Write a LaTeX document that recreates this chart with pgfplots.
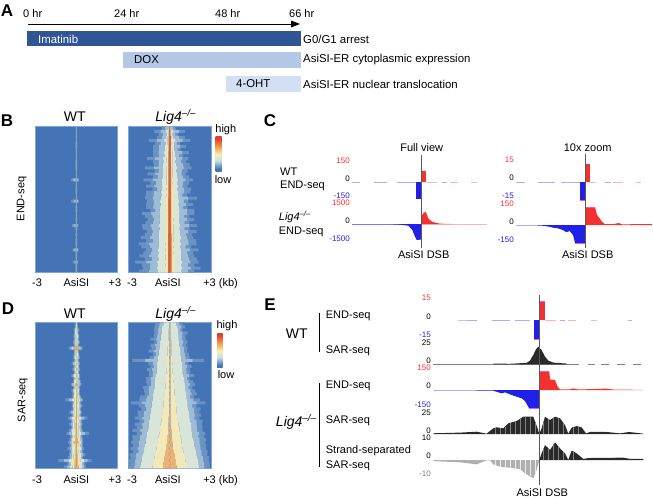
\documentclass[border=0pt]{standalone}
\usepackage{fontspec}
\setmainfont{Liberation Sans}
\usepackage{pgfplots}
\usepackage{pgfplotstable}
\pgfplotsset{compat=1.18}

\definecolor{hblue}{HTML}{4474B5}
\definecolor{hAa}{HTML}{6A92C2}
\definecolor{hAb}{HTML}{9FBCD6}
\definecolor{hB}{HTML}{D8E5D8}
\definecolor{hC}{HTML}{F6E8A2}
\definecolor{hCs}{HTML}{F3E8B8}
\definecolor{hE}{HTML}{A8C4DC}
\definecolor{hred}{HTML}{E8603A}
\definecolor{horange}{HTML}{F2B06A}
\definecolor{hline}{HTML}{9DB2B8}
\definecolor{hframe}{HTML}{7FA6D8}
\definecolor{tred}{HTML}{F43030}
\definecolor{tblue}{HTML}{2020E8}
\definecolor{tpink}{HTML}{FFB4B4}
\definecolor{tsky}{HTML}{AAB0F5}
\definecolor{tclip}{HTML}{E858E8}
\definecolor{tdark}{HTML}{2A2A2A}
\definecolor{tgrey}{HTML}{B0B0B0}
\definecolor{barA}{HTML}{2F5597}
\definecolor{barB}{HTML}{B4C7E7}
\definecolor{barC}{HTML}{D3DFF3}
\definecolor{hy}{HTML}{F8F0B0}
\definecolor{ho}{HTML}{F4A050}
\definecolor{hr}{HTML}{E0402A}
\definecolor{hl}{HTML}{C8DCE8}

% tikz maps the middle 50bp of a shading onto the path
\pgfdeclareverticalshading{heatbar}{100bp}{color(0bp)=(hblue); color(28bp)=(hblue); color(40bp)=(hl); color(49bp)=(hy); color(60bp)=(ho); color(72bp)=(hr); color(100bp)=(hr)}

% half widths in kb around the site, row by row; s pushes the outer edge to one side
\pgfplotstableread{
y a b c d e s
1 .04 .04 .04 .04 0 0
2 .04 .04 .04 .04 0 0
3 .04 .04 .04 .04 0 0
4 .04 .04 .04 .04 0 0
5 .04 .04 .04 .04 0 0
6 .05 .05 .05 .05 0 0
7 .05 .05 .05 .05 0 0
8 .04 .04 .04 .04 0 0
9 .04 .04 .04 .04 0 0
10 .04 .04 .04 .04 0 0
11 .04 .04 .04 .04 0 0
12 .05 .05 .05 .05 0 0
13 .05 .05 .05 .05 0 0
14 .05 .05 .05 .05 0 0
15 .04 .04 .04 .04 0 0
16 .04 .04 .04 .04 0 0
17 .04 .04 .04 .04 0 0
18 .3 .05 .05 .05 0 .1
19 .04 .04 .04 .04 0 0
20 .04 .04 .04 .04 0 0
21 .05 .05 .05 .05 0 0
22 .05 .05 .05 .05 0 0
23 .04 .04 .04 .04 0 0
24 .04 .04 .04 .04 0 0
25 .28 .05 .05 .05 0 .1
26 .04 .04 .04 .04 0 0
27 .05 .05 .05 .05 0 0
28 .05 .05 .05 .05 0 0
29 .04 .04 .04 .04 0 0
30 .04 .04 .04 .04 0 0
31 .05 .05 .05 .05 0 0
32 .04 .04 .04 .04 0 0
33 .22 .05 .05 .05 0 .08
34 .05 .05 .05 .05 0 0
35 .04 .04 .04 .04 0 0
36 .05 .05 .05 .05 0 0
37 .04 .04 .04 .04 0 0
38 .05 .05 .05 .05 0 0
39 .05 .05 .05 .05 0 0
40 .04 .04 .04 .04 0 0
41 .22 .05 .05 .05 0 .05
42 .05 .05 .05 .05 0 0
43 .05 .05 .05 .05 0 0
44 .04 .04 .04 .04 0 0
45 .18 .05 .05 .05 0 .05
46 .05 .05 .05 .05 0 0
47 .05 .05 .05 .05 0 0
48 .05 .05 .05 .05 0 0
}\endwt
\pgfplotstableread{
y a b c d e s
1 .5 .12 .07 .04 0 .05
2 1.1 .25 .1 .05 0 0
3 .7 .2 .1 .06 0 .1
4 1.0 .25 .15 .08 0 -.1
5 1.5 .4 .16 .08 0 0
6 .9 .3 .15 .08 0 .15
7 1.2 .35 .18 .08 0 0
8 1.0 .35 .18 .08 0 .2
9 1.3 .42 .2 .09 0 -.1
10 1.1 .38 .2 .09 0 .1
11 1.5 .48 .22 .09 0 .15
12 1.2 .42 .22 .09 0 0
13 1.3 .48 .2 .09 0 -.15
14 1.7 .52 .22 .1 0 .1
15 1.2 .48 .22 .1 0 -.1
16 1.4 .52 .22 .1 0 .2
17 1.3 .52 .22 .1 0 -.1
18 1.8 .6 .24 .1 0 .1
19 1.4 .55 .22 .1 0 0
20 1.5 .6 .25 .1 0 .2
21 1.4 .55 .24 .1 0 -.15
22 1.6 .65 .25 .1 0 .1
23 1.5 .6 .24 .1 0 .25
24 1.9 .65 .26 .11 0 -.1
25 1.5 .7 .25 .11 0 .15
26 1.7 .65 .26 .11 0 0
27 1.5 .7 .26 .11 0 .2
28 1.6 .72 .25 .11 0 -.2
29 1.9 .7 .26 .11 0 .1
30 1.6 .72 .26 .11 0 .2
31 1.7 .7 .27 .11 0 -.1
32 1.6 .72 .26 .11 0 .15
33 2.0 .78 .28 .11 0 0
34 1.7 .72 .27 .11 0 .25
35 1.8 .78 .28 .11 0 -.15
36 1.7 .78 .27 .12 0 .1
37 1.9 .82 .28 .12 0 .2
38 1.8 .78 .28 .12 0 -.1
39 2.1 .82 .3 .12 0 .15
40 1.8 .78 .28 .12 0 .25
41 1.9 .85 .3 .12 0 -.2
42 1.8 .82 .28 .12 0 .1
43 2.0 .85 .3 .12 0 .2
44 1.9 .82 .3 .12 0 -.1
45 2.3 .9 .32 .13 0 .2
46 1.9 .85 .3 .13 0 .1
47 2.1 .9 .32 .13 0 -.15
48 2.0 .85 .32 .13 0 .2
}\endko
\pgfplotstableread{
y a b c d e s
1 .1 .04 .01 0 0 0
2 .12 .05 .02 0 0 0
3 .2 .08 .03 0 0 0
4 .15 .1 .04 0 0 0
5 .22 .12 .06 0 0 0
6 .18 .1 .05 0 0 0
7 .25 .13 .07 0 0 0
8 .2 .1 .05 0 0 0
9 .5 .3 .25 .22 0 .05
10 .2 .1 .05 0 0 0
11 .22 .12 .06 0 0 0
12 .25 .14 .08 0 0 0
13 .2 .1 .05 0 0 0
14 .3 .15 .08 .02 0 .05
15 .22 .12 .06 0 0 0
16 .28 .15 .08 .02 0 0
17 .2 .12 .05 0 0 0
18 .32 .18 .1 .03 0 .05
19 .25 .14 .07 0 0 0
20 .3 .16 .08 0 0 -.05
21 .38 .22 .14 .1 0 0
22 .25 .14 .07 0 0 0
23 .32 .18 .1 .02 0 .05
24 .28 .16 .08 0 0 0
25 .35 .2 .1 .03 0 0
26 .65 .3 .15 .04 0 .15
27 .35 .2 .1 .03 0 0
28 .4 .24 .12 .03 0 -.05
29 .35 .2 .1 .03 0 0
30 .45 .26 .14 .04 0 .05
31 .35 .22 .1 .03 0 0
32 .7 .32 .16 .05 0 -.1
33 .4 .24 .12 .03 0 0
34 .5 .28 .15 .05 0 .05
35 .4 .24 .14 .05 0 0
36 .5 .3 .16 .05 0 .05
37 .8 .35 .16 .05 0 -.1
38 .45 .28 .14 .05 0 0
39 .5 .3 .18 .08 0 0
40 .55 .32 .25 .2 0 .05
41 .5 .3 .16 .06 0 0
42 .6 .34 .18 .06 0 .05
43 .5 .3 .16 .06 0 0
44 .6 .35 .2 .08 0 -.05
45 .55 .32 .2 .08 0 .05
46 1.2 .55 .3 .12 0 .1
47 .65 .4 .26 .12 0 0
48 .8 .45 .28 .15 0 .1
}\sarwt
\pgfplotstableread{
y a b c d e s
1 1.0 .45 .05 .05 .05 .05
2 1.1 .55 .06 .05 0 0
3 1.05 .6 .08 .05 .05 .1
4 1.2 .6 .1 .05 0 -.1
5 1.15 .65 .1 .05 .05 0
6 1.3 .65 .1 .05 0 .1
7 1.2 .7 .12 .05 .05 -.1
8 1.3 .7 .12 .05 0 .1
9 1.3 .75 .15 .05 .05 0
10 1.4 .8 .15 .05 0 .15
11 1.3 .8 .15 .05 .05 -.1
12 1.45 .85 .18 .05 0 0
13 2.6 .85 .18 .05 .05 .1
14 1.45 .9 .2 .05 0 .1
15 1.5 .9 .18 .05 .05 -.1
16 1.55 .95 .22 .05 0 .1
17 1.5 .95 .22 .05 .05 0
18 1.65 1.0 .25 .05 0 -.15
19 1.6 1.05 .25 .05 .05 .15
20 1.7 1.05 .28 .05 0 0
21 1.75 1.1 .3 .05 .05 -.1
22 1.8 1.1 .3 .05 0 .15
23 1.85 1.15 .35 .05 .05 0
24 1.9 1.2 .35 .05 0 -.1
25 1.95 1.2 .4 .05 .05 .2
26 2.2 1.25 .4 .05 0 0
27 2.7 1.3 .45 .05 .05 .1
28 2.1 1.3 .45 .05 0 .15
29 2.15 1.35 .5 .06 .06 -.1
30 2.25 1.4 .5 .06 0 .1
31 2.3 1.45 .55 .06 .06 0
32 2.35 1.45 .55 .08 0 .2
33 2.3 1.5 .6 .08 .06 -.1
34 2.45 1.55 .65 .1 0 .1
35 2.4 1.55 .7 .1 .06 0
36 2.55 1.6 .7 .12 0 .15
37 2.5 1.65 .75 .12 .06 -.1
38 2.6 1.65 .8 .15 0 .1
39 2.65 1.7 .85 .18 .05 0
40 2.7 1.75 .85 .2 0 .1
41 2.65 1.8 .9 .22 .05 0
42 2.75 1.85 .95 .26 0 .1
43 2.7 1.9 1.0 .3 .05 -.05
44 2.8 1.95 1.05 .35 0 .1
45 2.85 2.0 1.1 .38 .05 0
46 2.9 2.05 1.15 .42 0 .05
47 2.9 2.1 1.2 .46 .05 0
48 2.95 2.15 1.25 .5 0 .05
}\sarko

% one row of the heat map is one stacked bar
\newcommand{\heatbars}[3]{%
  \addplot[draw=none,fill=none] table[y=y,x expr=3-\thisrow{a}-\thisrow{s}] {#1};
  \addplot[draw=none,fill=hAa] table[y=y,x expr=.5*(\thisrow{a}+\thisrow{s}-\thisrow{b})] {#1};
  \addplot[draw=none,fill=hAb] table[y=y,x expr=.5*(\thisrow{a}+\thisrow{s}-\thisrow{b})] {#1};
  \addplot[draw=none,fill=hB] table[y=y,x expr=\thisrow{b}-\thisrow{c}] {#1};
  \addplot[draw=none,fill=#3] table[y=y,x expr=\thisrow{c}-\thisrow{d}] {#1};
  \addplot[draw=none,fill=#2] table[y=y,x expr=\thisrow{d}-\thisrow{e}] {#1};
  \addplot[draw=none,fill=hE] table[y=y,x expr=2*\thisrow{e}] {#1};
  \addplot[draw=none,fill=#2] table[y=y,x expr=\thisrow{d}-\thisrow{e}] {#1};
  \addplot[draw=none,fill=#3] table[y=y,x expr=\thisrow{c}-\thisrow{d}] {#1};
  \addplot[draw=none,fill=hB] table[y=y,x expr=\thisrow{b}-\thisrow{c}] {#1};
  \addplot[draw=none,fill=hAb] table[y=y,x expr=.5*(\thisrow{a}-\thisrow{s}-\thisrow{b})] {#1};
  \addplot[draw=none,fill=hAa] table[y=y,x expr=.5*(\thisrow{a}-\thisrow{s}-\thisrow{b})] {#1};
}

\pgfplotsset{
  heat/.style n args={3}{
    at={(#1pt,-#2pt)},anchor=south west,scale only axis,width=82.7pt,height=146pt,
    xbar stacked,bar width=1,y dir=reverse,
    xmin=0,xmax=6,ymin=0.5,ymax=48.5,ytick=\empty,
    major tick length=0,
    axis background/.style={fill=hblue},
    axis line style={hframe,line width=.7pt},
    xticklabel style={anchor=base,yshift=#3pt,inner sep=0pt,font=\fontsize{11}{13}\selectfont},
  },
  track/.style n args={7}{
    at={(#1pt,-#2pt)},anchor=south west,scale only axis,width=#3pt,height=#4pt,
    xmin=#5,xmax=#6,clip=false,unbounded coords=jump,
    axis x line=none,axis y line*=left,y axis line style={draw=none},
    major tick length=0,
    yticklabel style={font=\fontsize{8}{8}\selectfont,inner sep=0pt,xshift=-2pt,yshift=#7pt},
  },
}

\begin{document}
\begin{tikzpicture}
\path[use as bounding box] (0pt,0pt) rectangle (653pt,-498pt);

% A: schedule, x in hours
\begin{axis}[at={(27pt,-92pt)},anchor=south west,scale only axis,width=273.7pt,height=61pt,
  xmin=0,xmax=66,ymin=0,ymax=61,hide axis,clip=false]
\addplot[fill=barA,draw=none] coordinates {(0,45.7)(66,45.7)(66,61)(0,61)};
\addplot[fill=barB,draw=none] coordinates {(23.2,24.3)(66,24.3)(66,39.7)(23.2,39.7)};
\addplot[fill=barC,draw=none] coordinates {(48,0.3)(66,0.3)(66,15.7)(48,15.7)};
\end{axis}

% B
\begin{axis}[heat={35}{272.7}{-13.3},xtick={0.15,3,5.8},xticklabels={-3,AsiSI,+3}]
\heatbars{\endwt}{hline}{hC}
\end{axis}
\begin{axis}[heat={128.3}{272.7}{-13.3},xtick={0.27,2.87,6},xticklabels={-3,AsiSI,{\makebox[0pt][l]{\hspace{-7.7pt}+3 (kb)}}}]
\heatbars{\endko}{hred}{hC}
\end{axis}

% D
\begin{axis}[heat={35}{468.3}{-14.7},xtick={0.15,3,5.8},xticklabels={-3,AsiSI,+3}]
\heatbars{\sarwt}{horange}{hC}
\end{axis}
\begin{axis}[heat={128.3}{468.3}{-14.7},xtick={0.27,2.87,6},xticklabels={-3,AsiSI,{\makebox[0pt][l]{\hspace{-7.7pt}+3 (kb)}}}]
\heatbars{\sarko}{horange}{hCs}
\end{axis}

% C, full view
\begin{axis}[track={352}{199.5}{135}{35}{-69}{66}{3.5},ymin=-150,ymax=150,ytick={-150,0,150},
  yticklabels={\textcolor{tblue}{-150},0,\textcolor{tred}{150}}]
\addplot[tsky,line width=.6pt] coordinates {(-68.7,0)(-61,0)(-61,nan)(-47,0)(-34,0)(-34,nan)(-23.7,0)(-1,0)};
\addplot[tpink,line width=.6pt] coordinates {(4.7,0)(15.7,0)(15.7,nan)(29,0)(37,0)(37,nan)(50,0)(56,0)};
\addplot[tsky,line width=.6pt] coordinates {(20.7,0)(25.7,0)};
\addplot[fill=tred,draw=none] coordinates {(0,0)(0,97)(5,97)(5,0)};
\addplot[fill=tblue,draw=none] coordinates {(-5,0)(-5,-146)(0,-146)(0,0)};
\end{axis}
\begin{axis}[track={352}{242}{135}{36}{-69}{66}{3},ymin=-1500,ymax=1500,ytick={-1500,0,1500},
  yticklabels={\textcolor{tblue}{-1500},0,\textcolor{tred}{1500}}]
\addplot[tblue!60!white,line width=.5pt] coordinates {(-69,-5)(0,-5)};
\addplot[tpink,line width=.8pt] coordinates {(0,0)(66,0)};
\addplot[fill=tred,draw=none] coordinates {(0,0)(0,580)(2.3,890)(4.7,1025)(7.3,472)(10.7,194)(15.7,83)(19,25)(30,10)(30,0)};
\addplot[fill=tblue,draw=none] coordinates {(0,0)(0,-1300)(-4.3,-1330)(-6,-1055)(-8.7,-500)(-12.7,-140)(-21,-50)(-30,-10)(-30,0)};
\end{axis}

% C, 10x zoom
\begin{axis}[track={516}{200.3}{136}{36}{-69}{67}{4.3},ymin=-15,ymax=15,ytick={-15,0,15},
  yticklabels={\textcolor{tblue}{-15},0,\textcolor{tred}{15}}]
\addplot[tsky,line width=.6pt] coordinates {(-68.7,0)(-60,0)(-60,nan)(-47,0)(-30,0)(-30,nan)(-23.7,0)(-5,0)};
\addplot[tsky,line width=.6pt] coordinates {(19.7,0)(26,0)};
\addplot[tpink,line width=.6pt] coordinates {(5.3,0)(11.3,0)(11.3,nan)(28,0)(38,0)(38,nan)(50.7,0)(56,0)};
\addplot[tclip,line width=.35pt] coordinates {(0,15.1)(5.3,15.1)};
\addplot[tclip,line width=.35pt] coordinates {(-5,-14.8)(0,-14.8)};
\addplot[fill=tred,draw=none] coordinates {(0,0)(0,15)(5.3,15)(5.3,0)};
\addplot[fill=tblue,draw=none] coordinates {(-5,0)(-5,-14.7)(0,-14.7)(0,0)};
\end{axis}
\begin{axis}[track={516}{243}{136}{36}{-69}{67}{3.5},ymin=-150,ymax=150,ytick={-150,0,150},
  yticklabels={\textcolor{tblue}{-150},0,\textcolor{tred}{150}}]
\addplot[fill=tred,draw=none] coordinates {(0,0)(0,150)(10,150)(12,83)(14.7,55)(17,28)(19.7,8)(28,8)(33.7,16)(38,4)(51,8)(58,8)(67,8)(67,0)};
\addplot[fill=tblue,draw=none] coordinates {(0,0)(0,-150)(-10,-150)(-12,-83)(-15.3,-50)(-18.7,-60)(-22,-42)(-27,-28)(-32,-22)(-37,-12)(-43.7,-5)(-52,-3)(-68.7,-4)(-69,0)};
\addplot[tclip,line width=.35pt] coordinates {(0,150)(10,150)};
\addplot[tclip,line width=.35pt] coordinates {(-10,-150)(0,-150)};
\end{axis}

% E, WT
\begin{axis}[track={433}{338.5}{210}{37}{-106.3}{103.7}{3.7},ymin=-15,ymax=15,ytick={-15,0,15},
  yticklabels={\textcolor{tblue}{-15},0,\textcolor{tred}{15}}]
\addplot[tpink,line width=.6pt] coordinates {(-81,0)(-72.7,0)(-72.7,nan)(5.7,0)(17,0)(17,nan)(29,0)(37,0)(37,nan)(52,0)(58,0)};
\addplot[tsky,line width=.6pt] coordinates {(-72.7,0)(-62.7,0)(-62.7,nan)(-47.7,0)(-29,0)(-29,nan)(-24,0)(-9.3,0)(-9.3,nan)(20.7,0)(25.7,0)(25.7,nan)(89,0)(93,0)};
\addplot[fill=tred,draw=none] coordinates {(0,0)(0,15)(5.7,15)(5.7,0)};
\addplot[fill=tblue,draw=none] coordinates {(-5.3,0)(-5.3,-15.4)(0,-15.4)(0,0)};
\addplot[tclip,line width=.35pt] coordinates {(0,15)(5.7,15)};
\addplot[tclip,line width=.35pt] coordinates {(-5.3,-15.4)(0,-15.4)};
\end{axis}
\begin{axis}[track={433}{364.3}{210}{18.4}{-106.3}{103.7}{3.6},ymin=0,ymax=25,ytick={0,25},yticklabels={0,25}]
\addplot[gray,line width=.5pt] coordinates {(-106,0)(40,0)(40,nan)(49,0)(56,0)(56,nan)(62,0)(70,0)(70,nan)(78,0)(86,0)(86,nan)(94,0)(102,0)};
\addplot[fill=tdark,draw=none] coordinates {(-46,0)(-46,1)(-29,.7)(-12.7,2)(-9.3,5)(-6,12.7)(-3.3,20.4)(-1,24)(2.3,19.4)(5.7,10.4)(9,5)(14,2.3)(27.3,1)(27.3,0)};
\end{axis}

% E, Lig4
\begin{axis}[track={433}{408.5}{210}{37}{-106.3}{103.7}{3.8},ymin=-150,ymax=150,ytick={-150,0,150},
  yticklabels={\textcolor{tblue}{-150},0,\textcolor{tred}{150}}]
\addplot[fill=tred,draw=none] coordinates {(0,0)(0,150)(10,150)(10.7,86)(15.7,81)(18.3,27)(20.7,5)(30.7,5)(34,13)(39,4)(67,11)(74,4)(94,2)(104,1)(104,0)};
\addplot[fill=tblue,draw=none] coordinates {(0,0)(0,-150)(-10,-150)(-14.3,-89)(-17.7,-67)(-22.7,-54)(-27.7,-40)(-34.3,-19)(-37.7,-27)(-46,-6)(-62.7,-4)(-106,-2)(-106,0)};
\addplot[tclip,line width=.35pt] coordinates {(0,150)(10,150)};
\addplot[tclip,line width=.35pt] coordinates {(-10,-150)(0,-150)};
\end{axis}
\begin{axis}[track={433}{434}{210}{18}{-106.3}{103.7}{3.5},ymin=0,ymax=25,ytick={0,25},yticklabels={0,25}]
\addplot[fill=tdark,draw=none] coordinates {(-106,0)(-106,1)(-79.3,1.9)(-62.7,3.2)(-52.7,.5)(-46,7.9)(-42.7,9.3)(-36,7.9)(-31,14.8)(-22.7,18)(-16,24)(-6,24)(-1.7,7.9)(0,0)(2.3,7.9)(5.7,24)(10.7,19.4)(15.7,24)(20.7,21.8)(25.7,12.5)(29,.5)(32.3,8.8)(37.3,11)(42.3,9.3)(46.7,.9)(50.7,2.8)(67.3,2.8)(80.7,.9)(89.7,2.8)(104,.5)(104,0)};
\addplot[ycomb,gray,line width=.4pt] coordinates {(-44,8.6)(-39,8.5)(-34,10)(-29,15.5)(-24,17.5)(-19,21)(-14,24)(-9,24)(-4,16)(4,15)(9,21)(14,22)(19,22.5)(24,15.5)(34,9.5)(39,10.3)};
\end{axis}
\begin{axis}[track={433}{478}{210}{36}{-106.3}{103.7}{3.8},ymin=-10,ymax=10,ytick={-10,0,10},
  yticklabels={\textcolor{gray}{-10},0,\textcolor{black}{10}}]
\addplot[fill=tdark,draw=none] coordinates {(0,0)(2.3,3.7)(5.7,8.3)(10.7,5.6)(15.7,9.8)(20.7,6.5)(25.7,3.7)(29,0)(32.3,5.2)(37.3,3.7)(44,.6)(49,1.1)(84,1.3)(90.7,.6)(104,.6)(104,0)};
\addplot[fill=tgrey,draw=none] coordinates {(0,0)(-2.7,-5.6)(-6,-10.2)(-14.3,-7.4)(-19.3,-5)(-29.3,-4.3)(-39.3,-3.7)(-46,-2.4)(-49.3,-.2)(-52.7,-.2)(-62.7,-2.4)(-79.3,-1.3)(-106,-.6)(-106,0)};
\addplot[ycomb,gray,line width=.4pt] coordinates {(4,6)(9,6.5)(14,8.8)(19,7.5)(24,4.7)(34,4.8)};
\addplot[ycomb,white!85!gray,line width=.4pt] coordinates {(-44,-2.8)(-39,-3.7)(-34,-4)(-29,-4.3)(-24,-4.7)(-19,-5.1)(-14,-7.5)(-9,-9)(-4,-7.5)};
\end{axis}

\begin{scope}[x=1pt,y=-1pt,every node/.style={font=\fontsize{11}{13}\selectfont,inner sep=0pt}]
% A
\draw[line width=.8pt] (28,24) -- (292,24);
\fill (300,24) -- (291,20.5) -- (291,27.5) -- cycle;
\node at (32.7,14) {0 hr};
\node at (126.7,14) {24 hr};
\node at (227.7,14) {48 hr};
\node at (301.7,14) {66 hr};
\node[anchor=west,text=white,font=\fontsize{11.4}{13}\selectfont] at (38,39) {Imatinib};
\node[anchor=west,font=\fontsize{11.4}{13}\selectfont] at (134,60) {DOX};
\node[anchor=west,font=\fontsize{11.4}{13}\selectfont] at (236,84) {4-OHT};
\node[anchor=west,font=\fontsize{11.4}{13}\selectfont] at (303,39) {G0/G1 arrest};
\node[anchor=west,font=\fontsize{11.4}{13}\selectfont] at (303,60) {AsiSI-ER cytoplasmic expression};
\node[anchor=west,font=\fontsize{11.4}{13}\selectfont] at (303,84) {AsiSI-ER nuclear translocation};
% panel letters
\node[font=\fontsize{17}{17}\selectfont\bfseries] at (7,11) {A};
\node[font=\fontsize{17}{17}\selectfont\bfseries] at (7,121) {B};
\node[font=\fontsize{17}{17}\selectfont\bfseries] at (270,121) {C};
\node[font=\fontsize{17}{17}\selectfont\bfseries] at (8,309) {D};
\node[font=\fontsize{17}{17}\selectfont\bfseries] at (270,305) {E};
% B, D titles and colour bars
\node[font=\fontsize{14}{14}\selectfont] at (74.7,117) {WT};
\node[font=\fontsize{14}{14}\selectfont] at (175.7,117) {\textit{Lig4}\textsuperscript{\textit{–/–}}};
\node[font=\fontsize{14}{14}\selectfont] at (74.7,314) {WT};
\node[font=\fontsize{14}{14}\selectfont] at (175.7,314) {\textit{Lig4}\textsuperscript{\textit{–/–}}};
\node[rotate=90] at (21.7,199) {END-seq};
\node[rotate=90] at (22.7,400) {SAR-seq};
\shade[shading=heatbar] (215.7,136.7) rectangle (221.7,171);
\shade[shading=heatbar] (217,333) rectangle (222.7,367.7);
\node at (225.8,130) {high};
\node at (223,180) {low};
\node at (227,326) {high};
\node at (226,375) {low};
% C
\draw[gray!70!black,line width=.8pt] (421,155) -- (421,248);
\draw[gray!70!black,line width=.8pt] (585,154) -- (585,248);
\node at (421.7,148) {Full view};
\node at (587.7,148) {10x zoom};
\node at (423.7,255) {AsiSI DSB};
\node at (587.7,255) {AsiSI DSB};
\node[anchor=west] at (280,172) {WT};
\node[anchor=west] at (280,186) {END-seq};
\node[anchor=west] at (278.7,216.7) {\textit{Lig4}\textsuperscript{\textit{–/–}}};
\node[anchor=west] at (278.7,231.7) {END-seq};
% E
\draw[gray!70!black,line width=.8pt] (539.3,295) -- (539.3,485);
\draw[line width=.6pt] (319.3,312.7) -- (319.3,351.7);
\draw[line width=.6pt] (319.3,382.7) -- (319.3,467.3);
\node[font=\fontsize{14}{14}\selectfont] at (296.7,333.3) {WT};
\node[font=\fontsize{14}{14}\selectfont] at (296.3,421.7) {\textit{Lig4}\textsuperscript{\textit{–/–}}};
\node[anchor=west] at (325.7,316) {END-seq};
\node[anchor=west] at (325.7,351) {SAR-seq};
\node[anchor=west] at (325.7,386) {END-seq};
\node[anchor=west] at (325.7,421) {SAR-seq};
\node[anchor=west] at (325.7,451) {Strand-separated};
\node[anchor=west] at (325.7,465.7) {SAR-seq};
\node at (542.3,492.3) {AsiSI DSB};
\end{scope}
\end{tikzpicture}
\end{document}
